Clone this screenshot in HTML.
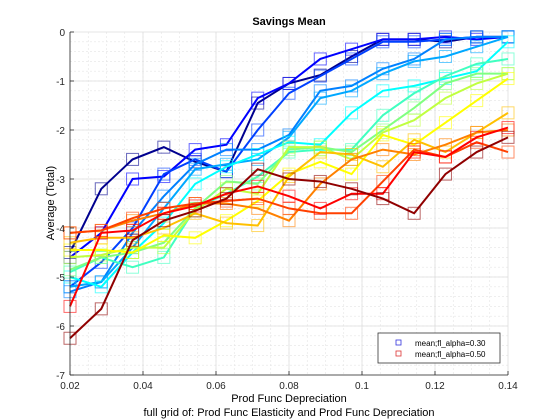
<!DOCTYPE html>
<html><head><meta charset="utf-8"><style>
body{margin:0;background:#fff;}
svg{display:block;font-family:"Liberation Sans",sans-serif;}
</style></head><body>
<svg id="chart" width="560" height="420" viewBox="0 0 560 420" xmlns="http://www.w3.org/2000/svg">
<rect width="560" height="420" fill="#fff"/>
<g id="grid"></g>
<g id="series"></g>
<g id="axes"></g>
<text x="289" y="25" text-anchor="middle" font-size="11" font-weight="bold">Savings Mean</text>
<text x="289" y="402" text-anchor="middle" font-size="11">Prod Func Depreciation</text>
<text x="289" y="416" text-anchor="middle" font-size="11">full grid of: Prod Func Elasticity and Prod Func Depreciation</text>
<text transform="translate(54,203) rotate(-90)" text-anchor="middle" font-size="11">Average (Total)</text>
<g>
<rect x="378" y="333" width="122" height="30" fill="#fff" stroke="#333" stroke-width="0.8"/>
<rect x="396" y="340" width="5" height="5" fill="none" stroke="#3333dd" stroke-width="0.8"/>
<text x="415" y="346" font-size="8">mean;fl_alpha=0.30</text>
<rect x="396" y="351" width="5" height="5" fill="none" stroke="#dd3333" stroke-width="0.8"/>
<text x="415" y="357" font-size="8">mean;fl_alpha=0.50</text>
</g>
</svg>
<script>
const xValues = [0.02,0.02857,0.03714,0.04571,0.05429,0.06286,0.07143,0.08,0.08857,0.09714,0.10571,0.11429,0.12286,0.13143,0.14];
const xTicks = [0.02,0.04,0.06,0.08,0.1,0.12,0.14];
const xTickLabels = ["0.02","0.04","0.06","0.08","0.1","0.12","0.14"];
const yTicks = [0,-1,-2,-3,-4,-5,-6,-7];
const yTickLabels = ["0","-1","-2","-3","-4","-5","-6","-7"];
const seriesColors = ["#00008f","#0000ff","#0040ff","#0080ff","#00a8ff","#00ffff","#40ffc0","#80ff80","#c0ff40","#ffff00","#ffc000","#ff8000","#ff4000","#ff0000","#900000"];
const s1 = [-4.5,-3.2,-2.6,-2.35,-2.65,-2.85,-1.45,-1.05,-0.88,-0.5,-0.15,-0.15,-0.2,-0.1,-0.1];
const s2 = [-4.6,-4.1,-3.0,-2.95,-2.4,-2.3,-1.35,-1.05,-0.55,-0.35,-0.15,-0.15,-0.1,-0.15,-0.1];
const s3 = [-5.2,-4.7,-4.0,-2.9,-2.6,-2.85,-2.0,-1.25,-0.9,-0.55,-0.2,-0.2,-0.15,-0.1,-0.1];
const s4 = [-5.3,-5.1,-4.1,-3.35,-2.7,-2.4,-2.4,-2.1,-1.2,-1.1,-0.75,-0.55,-0.15,-0.1,-0.1];
const s5 = [-5.2,-5.1,-4.4,-3.6,-2.8,-2.7,-2.6,-2.15,-1.35,-1.2,-0.85,-0.6,-0.5,-0.3,-0.1];
const s6 = [-5.0,-5.2,-4.5,-3.9,-3.1,-2.75,-2.5,-2.25,-2.3,-1.65,-1.2,-1.1,-0.95,-0.8,-0.2];
const s7 = [-4.9,-4.6,-4.8,-4.6,-3.6,-3.3,-2.95,-2.45,-2.4,-2.4,-1.7,-1.25,-0.9,-0.65,-0.55];
const s8 = [-4.85,-4.6,-4.5,-4.3,-3.6,-3.05,-3.1,-2.4,-2.35,-2.45,-2.0,-1.55,-1.05,-0.85,-0.85];
const s9 = [-4.6,-4.55,-4.4,-4.4,-3.65,-3.2,-3.3,-2.35,-2.35,-2.6,-2.05,-1.8,-1.35,-1.05,-0.85];
const s10 = [-4.45,-4.45,-4.5,-4.15,-4.2,-3.85,-3.45,-2.9,-2.65,-2.9,-2.1,-2.3,-1.85,-1.4,-0.95];
const s11 = [-4.3,-4.2,-4.2,-4.0,-3.7,-3.9,-3.95,-2.95,-2.45,-2.5,-2.75,-2.2,-2.45,-2.05,-1.65];
const s12 = [-4.1,-4.05,-3.85,-3.7,-3.5,-3.5,-3.6,-3.85,-3.1,-2.6,-2.4,-2.5,-2.3,-2.05,-2.0];
const s13 = [-4.1,-4.05,-3.8,-3.6,-3.5,-3.45,-3.4,-3.6,-3.7,-3.7,-3.05,-2.4,-2.55,-2.25,-2.45];
const s14 = [-5.6,-4.1,-4.05,-3.7,-3.55,-3.3,-3.15,-3.35,-3.6,-3.3,-3.3,-2.45,-2.55,-2.15,-1.95];
const s15 = [-6.25,-5.65,-4.25,-3.85,-3.65,-3.4,-2.8,-3.0,-3.05,-3.2,-3.4,-3.7,-2.9,-2.45,-2.15];
const allSeries = [s1,s2,s3,s4,s5,s6,s7,s8,s9,s10,s11,s12,s13,s14,s15];

const L=70,R=508,T=32,B=375;
const xs = v => L + (v-0.02)/(0.14-0.02)*(R-L);
const ys = v => T + (0-v)/7*(B-T);
const NS="http://www.w3.org/2000/svg";
function mk(tag, attrs, parent){const e=document.createElementNS(NS,tag);for(const k in attrs)e.setAttribute(k,attrs[k]);parent.appendChild(e);return e;}

const grid=document.getElementById('grid');
mk('rect',{x:L,y:T,width:R-L,height:B-T,fill:'#fff'},grid);
for(let v=0.025; v<0.14; v+=0.005){ const x=xs(v); mk('line',{x1:x,x2:x,y1:T,y2:B,stroke:'#e4e4e4','stroke-width':0.6,'stroke-dasharray':'2,2'},grid);}
for(let v=-0.2; v>-7; v-=0.2){ const y=ys(v); mk('line',{x1:L,x2:R,y1:y,y2:y,stroke:'#e4e4e4','stroke-width':0.6,'stroke-dasharray':'2,2'},grid);}
xTicks.forEach(v=>{const x=xs(v);mk('line',{x1:x,x2:x,y1:T,y2:B,stroke:'#dcdcdc','stroke-width':0.7},grid);});
yTicks.forEach(v=>{const y=ys(v);mk('line',{x1:L,x2:R,y1:y,y2:y,stroke:'#dcdcdc','stroke-width':0.7},grid);});

const sg=document.getElementById('series');
allSeries.forEach((arr,i)=>{
  const g=mk('g',{},sg);
  
  
  const pts=arr.map((v,k)=>xs(xValues[k])+','+ys(v)).join(' ');
  const pl=mk('polyline',{points:pts,fill:'none',stroke:seriesColors[i],'stroke-width':2},g);
  
  
  arr.forEach((v,k)=>{
    const r=mk('rect',{x:xs(xValues[k])-6,y:ys(v)-6,width:12,height:12,fill:'none',stroke:seriesColors[i],'stroke-opacity':0.6,'stroke-width':1},g);
    
    
  });
});

const ax=document.getElementById('axes');
mk('line',{x1:L,x2:R,y1:B,y2:B,stroke:'#262626','stroke-width':0.8},ax);
mk('line',{x1:L,x2:L,y1:T,y2:B,stroke:'#262626','stroke-width':0.8},ax);
xTicks.forEach((v,i)=>{const x=xs(v);
  mk('line',{x1:x,x2:x,y1:B,y2:B-4,stroke:'#262626','stroke-width':0.8},ax);
  const t=mk('text',{x:x,y:B+14,'text-anchor':'middle','font-size':10,fill:'#262626'},ax);t.textContent=xTickLabels[i];
  
  
});
yTicks.forEach((v,i)=>{const y=ys(v);
  mk('line',{x1:L,x2:L+4,y1:y,y2:y,stroke:'#262626','stroke-width':0.8},ax);
  const t=mk('text',{x:L-5,y:y+4,'text-anchor':'end','font-size':10,fill:'#262626'},ax);t.textContent=yTickLabels[i];
  
  
});
</script>
</body></html>
